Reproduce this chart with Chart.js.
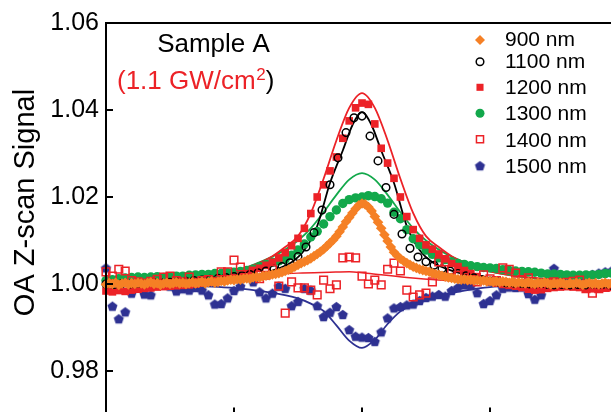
<!DOCTYPE html>
<html>
<head>
<meta charset="utf-8">
<script src="https://cdn.jsdelivr.net/npm/chart.js@4/dist/chart.umd.min.js"></script>
<style>
html,body{margin:0;padding:0;background:#fff;overflow:hidden;}
#wrap{position:absolute;left:0;top:0;width:640px;height:460px;}
</style>
</head>
<body>
<div id="wrap"><canvas id="c" width="640" height="460"></canvas></div>
<script>
// ---------------- data ----------------
const yTicks = [0.98, 1.00, 1.02, 1.04, 1.06];
const seriesNames = ['900 nm', '1100 nm', '1200 nm', '1300 nm', '1400 nm', '1500 nm'];

// scan positions
const zHalf = [-40,-39.5,-39,-38.5,-38,-37.5,-37,-36.5,-36,-35.5,-35,-34.5,-34,-33.5,-33,-32.5,-32,-31.5,-31,-30.5,
-30,-29.5,-29,-28.5,-28,-27.5,-27,-26.5,-26,-25.5,-25,-24.5,-24,-23.5,-23,-22.5,-22,-21.5,-21,-20.5,
-20,-19.5,-19,-18.5,-18,-17.5,-17,-16.5,-16,-15.5,-15,-14.5,-14,-13.5,-13,-12.5,-12,-11.5,-11,-10.5,
-10,-9.5,-9,-8.5,-8,-7.5,-7,-6.5,-6,-5.5,-5,-4.5,-4,-3.5,-3,-2.5,-2,-1.5,-1,-0.5,
0,0.5,1,1.5,2,2.5,3,3.5,4,4.5,5,5.5,6,6.5,7,7.5,8,8.5,9,9.5,
10,10.5,11,11.5,12,12.5,13,13.5,14,14.5,15,15.5,16,16.5,17,17.5,18,18.5,19,19.5,
20,20.5,21,21.5,22,22.5,23,23.5,24,24.5,25,25.5,26,26.5,27,27.5,28,28.5,29,29.5,
30,30.5,31,31.5,32,32.5,33,33.5,34,34.5,35,35.5,36,36.5,37,37.5,38,38.5,39,39.5,40];
const zOne = [-40,-39,-38,-37,-36,-35,-34,-33,-32,-31,-30,-29,-28,-27,-26,-25,-24,-23,-22,-21,
-20,-19,-18,-17,-16,-15,-14,-13,-12,-11,-10,-9,-8,-7,-6,-5,-4,-3,-2,-1,
0,1,2,3,4,5,6,7,8,9,10,11,12,13,14,15,16,17,18,19,
20,21,22,23,24,25,26,27,28,29,30,31,32,33,34,35,36,37,38,39,40];
const zQuarter = [-40,-38.75,-37.5,-36.25,-35,-33.75,-32.5,-31.25,-30,-28.75,-27.5,-26.25,-25,-23.75,-22.5,-21.25,
-20,-18.75,-17.5,-16.25,-15,-13.75,-12.5,-11.25,-10,-8.75,-7.5,-6.25,-5,-3.75,-2.5,-1.25,
0,1.25,2.5,3.75,5,6.25,7.5,8.75,10,11.25,12.5,13.75,15,16.25,17.5,18.75,
20,21.25,22.5,23.75,25,26.25,27.5,28.75,30,31.25,32.5,33.75,35,36.25,37.5,38.75,40];

// measured signals
const t900 = [0.9999,1.0002,1.0000,1.0003,0.9998,1.0001,1.0003,0.9999,1.0002,1.0000,
1.0003,1.0001,0.9999,1.0002,1.0004,1.0000,1.0002,0.9998,1.0001,1.0003,
1.0000,1.0002,1.0004,1.0001,1.0003,1.0000,1.0002,1.0004,1.0001,1.0003,
1.0005,1.0002,1.0004,1.0006,1.0003,1.0005,1.0007,1.0006,1.0008,1.0010,
1.0009,1.0011,1.0010,1.0012,1.0013,1.0012,1.0015,1.0016,1.0015,1.0018,
1.0019,1.0020,1.0022,1.0023,1.0025,1.0027,1.0030,1.0033,1.0036,1.0040,
1.0044,1.0048,1.0051,1.0055,1.0059,1.0064,1.0069,1.0074,1.0080,1.0087,
1.0094,1.0101,1.0110,1.0120,1.0131,1.0143,1.0153,1.0163,1.0173,1.0181,
1.0185,1.0183,1.0177,1.0168,1.0155,1.0142,1.0128,1.0113,1.0099,1.0085,
1.0073,1.0065,1.0058,1.0053,1.0048,1.0044,1.0040,1.0037,1.0034,1.0032,
1.0030,1.0028,1.0025,1.0023,1.0021,1.0019,1.0017,1.0015,1.0014,1.0012,
1.0011,1.0010,1.0011,1.0009,1.0010,1.0008,1.0009,1.0007,1.0008,1.0006,
1.0007,1.0005,1.0006,1.0004,1.0006,1.0005,1.0003,1.0005,1.0002,1.0004,
1.0003,1.0001,1.0004,1.0002,1.0000,1.0003,1.0001,1.0004,1.0002,0.9999,
1.0002,1.0000,1.0003,1.0001,0.9999,1.0002,1.0000,1.0003,1.0001,0.9998,
1.0001,1.0003,1.0000,1.0002,0.9999,1.0001,1.0003,1.0000,1.0002,0.9999,1.0001];
const t1100 = [1.0000,0.9999,1.0001,1.0000,1.0002,1.0001,1.0003,1.0002,1.0004,1.0005,
1.0006,1.0008,1.0009,1.0011,1.0013,1.0015,1.0017,1.0019,1.0022,1.0026,
1.0030,1.0034,1.0040,1.0049,1.0063,1.0085,1.0118,1.0170,1.0228,1.0290,
1.0348,1.0382,1.0386,1.0340,1.0283,1.0222,1.0160,1.0115,1.0082,1.0062,
1.0051,1.0043,1.0035,1.0030,1.0024,1.0019,1.0014,1.0010,1.0007,1.0005,
1.0003,1.0002,1.0001,1.0000,0.9999,0.9999,0.9998,0.9999,0.9998,0.9999,
0.9998,0.9997,0.9998,0.9997,0.9998];
const t1200 = [0.9984,0.9982,0.9985,0.9983,0.9986,0.9988,0.9990,0.9991,0.9993,0.9994,
0.9995,0.9996,0.9997,0.9998,1.0000,1.0002,1.0004,1.0006,1.0008,1.0011,
1.0015,1.0019,1.0024,1.0030,1.0036,1.0043,1.0050,1.0060,1.0072,1.0088,
1.0105,1.0128,1.0162,1.0200,1.0228,1.0260,1.0292,1.0335,1.0375,1.0405,
1.0416,1.0413,1.0368,1.0312,1.0278,1.0243,1.0200,1.0155,1.0125,1.0105,
1.0090,1.0080,1.0069,1.0058,1.0047,1.0040,1.0031,1.0024,1.0017,1.0010,
1.0005,1.0002,0.9999,0.9997,0.9995,0.9992,0.9988,0.9986,0.9987,0.9990,
0.9992,0.9993,0.9994,0.9993,0.9992,0.9990,0.9989,0.9990,0.9991,0.9992,0.9993];
const t1300 = [1.0008,1.0010,1.0012,1.0014,1.0015,1.0016,1.0015,1.0016,1.0017,1.0015,
1.0016,1.0018,1.0018,1.0020,1.0021,1.0022,1.0022,1.0024,1.0024,1.0026,
1.0027,1.0029,1.0031,1.0034,1.0040,1.0045,1.0050,1.0053,1.0057,1.0066,
1.0078,1.0092,1.0108,1.0121,1.0138,1.0155,1.0170,1.0185,1.0194,1.0198,
1.0200,1.0203,1.0201,1.0196,1.0186,1.0165,1.0150,1.0125,1.0104,1.0090,
1.0078,1.0068,1.0060,1.0056,1.0051,1.0047,1.0045,1.0042,1.0040,1.0038,
1.0037,1.0036,1.0033,1.0031,1.0030,1.0029,1.0028,1.0027,1.0025,1.0023,
1.0023,1.0022,1.0021,1.0020,1.0020,1.0021,1.0021,1.0022,1.0024,1.0025,1.0025];
const t1400 = [1.0028,1.0018,1.0034,1.0030,1.0008,1.0005,1.0002,1.0006,1.0011,1.0016,
1.0018,1.0008,1.0005,1.0016,1.0004,1.0008,1.0010,1.0006,1.0028,1.0028,
1.0055,1.0039,1.0015,1.0030,1.0012,1.0020,1.0034,0.9995,0.9933,1.0005,
0.9991,0.9991,0.9986,0.9975,1.0009,0.9989,0.9998,1.0060,1.0062,1.0060,
1.0018,1.0000,1.0009,0.9998,1.0034,1.0048,1.0030,0.9986,0.9970,0.9975,
0.9979,1.0005,1.0051,1.0051,1.0032,1.0020,1.0023,1.0010,1.0005,1.0021,
1.0012,1.0008,1.0037,1.0034,1.0025,1.0010,1.0014,0.9993,0.9998,1.0003,
1.0005,1.0002,1.0004,1.0006,1.0009,0.9989,0.9979,0.9989,0.9992,1.0000,0.9995];
const t1500 = [1.0037,0.9949,0.9920,0.9936,0.9979,0.9995,0.9977,0.9975,1.0000,1.0005,
0.9995,0.9984,0.9989,0.9986,0.9992,0.9986,0.9975,0.9954,0.9955,0.9968,
0.9985,0.9995,1.0025,1.0005,0.9982,0.9968,0.9979,0.9995,0.9990,0.9950,
0.9960,0.9990,0.9986,0.9950,0.9925,0.9935,0.9948,0.9930,0.9895,0.9880,
0.9878,0.9877,0.9868,0.9890,0.9922,0.9945,0.9948,0.9952,0.9954,0.9962,
0.9969,0.9972,0.9976,0.9972,0.9985,0.9992,0.9998,0.9996,0.9980,0.9955,
0.9962,0.9975,0.9990,0.9993,0.9992,0.9993,0.9978,0.9965,0.9975,1.0010,
1.0036,1.0015,1.0005,1.0002,1.0008,1.0012,1.0022,1.0025,1.0028,1.0030,1.0030];

// fitted curves
const fitZ1100 = [-40,-30,-25,-20,-16,-13,-11,-9,-7,-5,-3,-1.5,0,1.5,3,5,7,9,11,13,16,20,25,30,40];
const fit1100 = [1.0000,1.0002,1.0004,1.0010,1.0022,1.0036,1.0050,1.0078,1.0133,1.0232,1.0307,1.0365,1.0395,1.0365,1.0307,1.0232,1.0133,1.0078,1.0050,1.0036,1.0022,1.0010,1.0004,1.0002,1.0000];
const fitZ1200 = [-40,-35,-30,-25,-20,-17,-14,-12,-10,-8,-6,-4,-2,0,2,4,6,8,10,12,14,17,20,25,30,35,40];
const fit1200 = [1.0005,1.0007,1.0011,1.0017,1.0029,1.0043,1.0064,1.0085,1.0110,1.0163,1.0242,1.0330,1.0405,1.0439,1.0405,1.0330,1.0242,1.0163,1.0110,1.0085,1.0064,1.0043,1.0029,1.0017,1.0011,1.0007,1.0005];
const fitZ1300 = [-40,-30,-25,-20,-17,-14,-12,-10,-8,-6,-4,-2,0,2,4,6,8,10,12,14,17,20,25,30,40];
const fit1300 = [1.0003,1.0009,1.0016,1.0029,1.0044,1.0063,1.0079,1.0100,1.0128,1.0165,1.0205,1.0240,1.0255,1.0240,1.0205,1.0165,1.0128,1.0100,1.0079,1.0063,1.0044,1.0029,1.0016,1.0009,1.0003];
const fitZ1400 = [-40,-30,-25,-20,-15,-10,-5,-2,0,3,7,12,17,25,40];
const fit1400 = [1.0001,1.0005,1.0009,1.0015,1.0021,1.0025,1.0027,1.0028,1.0026,1.0021,1.0015,1.0009,1.0005,1.0002,1.0000];
const fitZ1500 = [-40,-30,-20,-15,-10,-8,-6,-4,-2,0,2,4,6,8,10,13,16,20,30,40];
const fit1500 = [0.9999,0.9997,0.9991,0.9982,0.9967,0.9955,0.9938,0.9905,0.9870,0.9853,0.9872,0.9908,0.9937,0.9953,0.9964,0.9976,0.9985,0.9993,0.9998,1.0000];

// ---------------- styling ----------------
const FONT = "'Liberation Sans', Arial, Helvetica, sans-serif";
const C_ORANGE = '#F58025', C_RED = '#EC2227', C_GREEN = '#12A84B', C_NAVY = '#2E3192', C_BLACK = '#000000';

function pts(xs, ys){ return xs.map((x,i)=>({x:x, y:ys[i]})); }
function makePentagon(color, r){
  const s = Math.ceil(2*r + 2);
  const c = document.createElement('canvas'); c.width = s; c.height = s;
  const g = c.getContext('2d');
  g.fillStyle = color; g.beginPath();
  for (let k=0;k<5;k++){
    const a = -Math.PI/2 + k*2*Math.PI/5;
    const px = s/2 + r*Math.cos(a), py = s/2 + r*0.1 + r*Math.sin(a);
    if (k) g.lineTo(px,py); else g.moveTo(px,py);
  }
  g.closePath(); g.fill();
  return c;
}
const pent = makePentagon(C_NAVY, 5.3);

function markers(label, xs, ys, style, order){
  return Object.assign({label, data: pts(xs, ys), showLine:false, clip:false, order}, style);
}
function fit(xs, ys, color, width, order){
  return {label:'fit', data: pts(xs, ys), showLine:true, pointRadius:0, borderColor:color,
    borderWidth:width, cubicInterpolationMode:'monotone', clip:false, order, fill:false};
}
const st900  = {pointStyle:'rectRot', pointRadius:5.3, pointBackgroundColor:C_ORANGE, pointBorderColor:C_ORANGE, pointBorderWidth:0};
const st1100 = {pointStyle:'circle', pointRadius:3.8, pointBackgroundColor:'rgba(0,0,0,0)', pointBorderColor:C_BLACK, pointBorderWidth:1.5};
const st1200 = {pointStyle:'rect', pointRadius:5.4, pointBackgroundColor:C_RED, pointBorderColor:C_RED, pointBorderWidth:0};
const st1300 = {pointStyle:'circle', pointRadius:4.7, pointBackgroundColor:C_GREEN, pointBorderColor:C_GREEN, pointBorderWidth:0};
const st1400 = {pointStyle:'rect', pointRadius:5.4, pointBackgroundColor:'rgba(0,0,0,0)', pointBorderColor:C_RED, pointBorderWidth:1.5};
const st1500 = {pointStyle:pent, pointRadius:5, pointBackgroundColor:C_NAVY, pointBorderColor:C_NAVY, pointBorderWidth:0};

// lower "order" = drawn on top
const datasets = [
  markers(seriesNames[0], zHalf, t900, st900, 0),
  markers(seriesNames[4], zOne, t1400, st1400, 1),
  markers(seriesNames[1], zQuarter, t1100, st1100, 2),
  markers(seriesNames[2], zOne, t1200, st1200, 3),
  markers(seriesNames[3], zOne, t1300, st1300, 4),
  markers(seriesNames[5], zOne, t1500, st1500, 5),
  fit(fitZ1200, fit1200, C_RED, 1.8, 6),
  fit(fitZ1100, fit1100, C_BLACK, 1.8, 7),
  fit(fitZ1300, fit1300, C_GREEN, 1.8, 8),
  fit(fitZ1400, fit1400, C_RED, 1.5, 9),
  fit(fitZ1500, fit1500, C_NAVY, 1.8, 10)
];

const legendItems = [
  {name:seriesNames[0], st:st900, r:5, my:40, by:45.7},
  {name:seriesNames[1], st:st1100, r:3.8, my:61.7, by:67.7},
  {name:seriesNames[2], st:st1200, r:5, my:87.3, by:94},
  {name:seriesNames[3], st:st1300, r:4.5, my:113.3, by:120.3},
  {name:seriesNames[4], st:st1400, r:5, my:139.3, by:146.7},
  {name:seriesNames[5], st:st1500, r:5, my:165.7, by:172.7}
];

const framePlugin = {
  id:'frame',
  afterDatasetsDraw(chart){
    const {ctx, chartArea:a, scales:{x, y}} = chart;
    ctx.save();
    ctx.strokeStyle = '#000'; ctx.lineWidth = 2;
    ctx.strokeRect(a.left, a.top, a.right - a.left, a.bottom - a.top);
    ctx.beginPath();
    yTicks.forEach(v => { const py = y.getPixelForValue(v); ctx.moveTo(a.left, py); ctx.lineTo(a.left + 7, py); });
    x.ticks.forEach(t => { const px = x.getPixelForValue(t.value); ctx.moveTo(px, a.bottom); ctx.lineTo(px, a.bottom - 7); });
    ctx.stroke();
    ctx.restore();
  },
  afterDraw(chart){
    const ctx = chart.ctx;
    ctx.save();
    // y-axis title
    ctx.fillStyle = '#000';
    ctx.font = '29px ' + FONT;
    ctx.textAlign = 'center'; ctx.textBaseline = 'alphabetic';
    ctx.translate(34, 202.5); ctx.rotate(-Math.PI/2);
    ctx.fillText('OA Z-scan Signal', 0, 0);
    ctx.setTransform(1,0,0,1,0,0);
    // annotations
    ctx.font = '26px ' + FONT; ctx.textAlign = 'center';
    ctx.fillText('Sample A', 213.5, 52.3);
    ctx.textAlign = 'left';
    let xx = 117;
    ctx.fillStyle = C_RED; ctx.font = '26px ' + FONT;
    const t1 = '(1.1 GW/cm';
    ctx.fillText(t1, xx, 89.3); xx += ctx.measureText(t1).width;
    ctx.font = '17px ' + FONT;
    ctx.fillText('2', xx + 0.5, 80); xx += ctx.measureText('2').width + 0.5;
    ctx.fillStyle = '#000'; ctx.font = '26px ' + FONT;
    ctx.fillText(')', xx, 89.3);
    // legend
    ctx.font = '21px ' + FONT; ctx.textAlign = 'left'; ctx.textBaseline = 'alphabetic';
    legendItems.forEach(it => {
      const st = it.st;
      ctx.save();
      ctx.fillStyle = st.pointBackgroundColor; ctx.strokeStyle = st.pointBorderColor; ctx.lineWidth = st.pointBorderWidth;
      Chart.helpers.drawPoint(ctx, {pointStyle: st.pointStyle, radius: it.r, borderWidth: st.pointBorderWidth, rotation: 0}, 480, it.my);
      ctx.restore();
      ctx.fillStyle = '#000';
      ctx.fillText(it.name, 505, it.by);
    });
    ctx.restore();
  }
};

new Chart(document.getElementById('c'), {
  type:'scatter',
  data:{datasets},
  options:{
    responsive:false, animation:false, devicePixelRatio:1,
    layout:{padding:{left:0, top:23, right:22, bottom:0}},
    plugins:{legend:{display:false}, tooltip:{enabled:false}},
    elements:{point:{hoverRadius:0}},
    scales:{
      x:{type:'linear', min:-40, max:40,
        grid:{display:false, drawTicks:false}, border:{display:false},
        ticks:{display:false, stepSize:20},
        afterFit(s){ s.height = 45.5; }},
      y:{type:'linear', min:0.97, max:1.06,
        grid:{display:false, drawTicks:false}, border:{display:false},
        afterBuildTicks(s){ s.ticks = yTicks.map(v => ({value:v})); },
        ticks:{padding:7, color:'#000', font:{family:FONT, size:25}, callback:v => Number(v).toFixed(2)},
        afterFit(s){ s.width = 106; }}
    }
  },
  plugins:[framePlugin]
});
</script>
</body>
</html>
